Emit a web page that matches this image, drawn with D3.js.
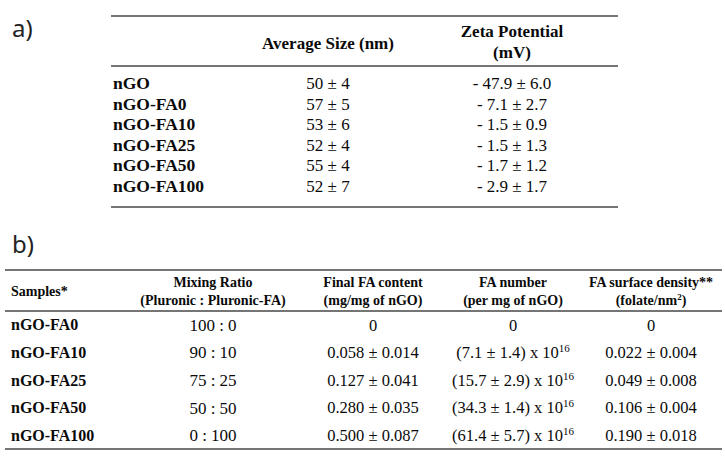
<!DOCTYPE html>
<html><head><meta charset="utf-8">
<script src="https://cdn.jsdelivr.net/npm/d3@7"></script>
<style>
html,body{margin:0;padding:0;background:#fff;}
svg{display:block;}
</style></head>
<body>
<script>
// ---- Table a data ----
const aSamples = ["nGO", "nGO-FA0", "nGO-FA10", "nGO-FA25", "nGO-FA50", "nGO-FA100"];
const aSize = ["50 ± 4", "57 ± 5", "53 ± 6", "52 ± 4", "55 ± 4", "52 ± 7"];
const aZeta = ["- 47.9 ± 6.0", "- 7.1 ± 2.7", "- 1.5 ± 0.9", "- 1.5 ± 1.3", "- 1.7 ± 1.2", "- 2.9 ± 1.7"];
const aHeaders = [["Average Size (nm)"], ["Zeta Potential", "(mV)"]];

// ---- Table b data ----
const bSamples = ["nGO-FA0", "nGO-FA10", "nGO-FA25", "nGO-FA50", "nGO-FA100"];
const bRatio = ["100 : 0", "90 : 10", "75 : 25", "50 : 50", "0 : 100"];
const bContent = ["0", "0.058 ± 0.014", "0.127 ± 0.041", "0.280 ± 0.035", "0.500 ± 0.087"];
const bNumber = ["0", "(7.1 ± 1.4) x 10", "(15.7 ± 2.9) x 10", "(34.3 ± 1.4) x 10", "(61.4 ± 5.7) x 10"];
const bNumberExp = ["", "16", "16", "16", "16"];
const bDensity = ["0", "0.022 ± 0.004", "0.049 ± 0.008", "0.106 ± 0.004", "0.190 ± 0.018"];
const bHeaders = [["Samples*"], ["Mixing Ratio", "(Pluronic : Pluronic-FA)"], ["Final FA content", "(mg/mg of nGO)"], ["FA number", "(per mg of nGO)"], ["FA surface density**", "(folate/nm", "2", ")"]];

const W = 725, H = 456;
const svg = d3.select("body").append("svg").attr("width", W).attr("height", H);
const serif = "'Liberation Serif','Times New Roman',serif";
const lineColor = "#474747";
const textColor = "#0a0a0a";

function hline(g, x1, x2, y, w) {
  g.append("line").attr("x1", x1).attr("x2", x2).attr("y1", y).attr("y2", y)
    .attr("stroke", lineColor).attr("stroke-width", w || 1.7);
}

// ---------- Panel labels ----------
svg.append("text").attr("x", 12).attr("y", 37).text("a)")
  .attr("font-family", "'Noto Sans',sans-serif").attr("font-size", 24).attr("fill", "#222");
svg.append("text").attr("x", 12).attr("y", 253).text("b)")
  .attr("font-family", "'Noto Sans',sans-serif").attr("font-size", 24).attr("fill", "#222");

// ---------- Table a ----------
const ga = svg.append("g");
const aCols = ["sample", "size", "zeta"];
const ax = d3.scaleOrdinal().domain(aCols).range([113, 328, 512]);
const ay = d3.scaleBand().domain(aSamples).range([73, 196]);
hline(ga, 111, 618, 16);
hline(ga, 111, 618, 66);
hline(ga, 111, 618, 207);

ga.append("text").attr("x", ax("size")).attr("y", 43).attr("dy", "0.35em")
  .attr("text-anchor", "middle").attr("font-family", serif).attr("font-weight", "bold")
  .attr("font-size", 17).attr("fill", textColor).text(aHeaders[0][0]);
aHeaders[1].forEach((t, i) => {
  ga.append("text").attr("x", ax("zeta")).attr("y", 31 + i * 21).attr("dy", "0.35em")
    .attr("text-anchor", "middle").attr("font-family", serif).attr("font-weight", "bold")
    .attr("font-size", 17).attr("fill", textColor).text(t);
});

const aRows = ga.selectAll("g.row").data(aSamples).join("g").attr("class", "row")
  .attr("transform", d => `translate(0,${ay(d) + ay.bandwidth() / 2})`);
aRows.append("text").attr("x", ax("sample")).attr("dy", "0.35em")
  .attr("font-family", serif).attr("font-weight", "bold").attr("font-size", 17.5)
  .attr("fill", textColor).text(d => d);
aRows.append("text").attr("x", ax("size")).attr("dy", "0.35em").attr("text-anchor", "middle")
  .attr("font-family", serif).attr("font-size", 17).attr("fill", textColor)
  .text((d, i) => aSize[i]);
aRows.append("text").attr("x", ax("zeta")).attr("dy", "0.35em").attr("text-anchor", "middle")
  .attr("font-family", serif).attr("font-size", 17).attr("fill", textColor)
  .text((d, i) => aZeta[i]);

// ---------- Table b ----------
const gb = svg.append("g");
const bCols = ["sample", "ratio", "content", "number", "density"];
const bx = d3.scaleOrdinal().domain(bCols).range([11, 213, 373, 513, 651]);
const by = d3.scaleBand().domain(bSamples).range([311, 449]);
hline(gb, 5, 722, 270);
hline(gb, 5, 722, 311);
hline(gb, 5, 722, 449);

// headers
gb.append("text").attr("x", bx("sample")).attr("y", 291).attr("dy", "0.35em")
  .attr("font-family", serif).attr("font-weight", "bold").attr("font-size", 14)
  .attr("fill", textColor).text(bHeaders[0][0]);
["ratio", "content", "number"].forEach((c, k) => {
  bHeaders[k + 1].forEach((t, i) => {
    gb.append("text").attr("x", bx(c)).attr("y", 282 + i * 18).attr("dy", "0.35em")
      .attr("text-anchor", "middle").attr("font-family", serif).attr("font-weight", "bold")
      .attr("font-size", 14).attr("fill", textColor).text(t);
  });
});
gb.append("text").attr("x", bx("density")).attr("y", 282).attr("dy", "0.35em")
  .attr("text-anchor", "middle").attr("font-family", serif).attr("font-weight", "bold")
  .attr("font-size", 14).attr("fill", textColor).text(bHeaders[4][0]);
const dens2 = gb.append("text").attr("x", bx("density")).attr("y", 300).attr("dy", "0.35em")
  .attr("text-anchor", "middle").attr("font-family", serif).attr("font-weight", "bold")
  .attr("font-size", 14).attr("fill", textColor);
dens2.append("tspan").text(bHeaders[4][1]);
dens2.append("tspan").attr("font-size", 9).attr("dy", "-0.5em").text(bHeaders[4][2]);
dens2.append("tspan").attr("dy", "0.32em").text(bHeaders[4][3]);

const bRows = gb.selectAll("g.row").data(bSamples).join("g").attr("class", "row")
  .attr("transform", d => `translate(0,${by(d) + by.bandwidth() / 2})`);
bRows.append("text").attr("x", bx("sample")).attr("dy", "0.35em")
  .attr("font-family", serif).attr("font-weight", "bold").attr("font-size", 16)
  .attr("fill", textColor).text(d => d);
bRows.append("text").attr("x", bx("ratio")).attr("dy", "0.35em").attr("text-anchor", "middle")
  .attr("font-family", serif).attr("font-size", 17).attr("fill", textColor)
  .text((d, i) => bRatio[i]);
bRows.append("text").attr("x", bx("content")).attr("dy", "0.35em").attr("text-anchor", "middle")
  .attr("font-family", serif).attr("font-size", 16.5).attr("fill", textColor)
  .text((d, i) => bContent[i]);
const num = bRows.append("text").attr("x", bx("number")).attr("dy", "0.35em").attr("text-anchor", "middle")
  .attr("font-family", serif).attr("font-size", 16.5).attr("fill", textColor);
num.append("tspan").text((d, i) => bNumber[i]);
num.append("tspan").attr("font-size", 11).attr("dy", "-0.55em").text((d, i) => bNumberExp[i]);
bRows.append("text").attr("x", bx("density")).attr("dy", "0.35em").attr("text-anchor", "middle")
  .attr("font-family", serif).attr("font-size", 16.5).attr("fill", textColor)
  .text((d, i) => bDensity[i]);
</script>
</body></html>
